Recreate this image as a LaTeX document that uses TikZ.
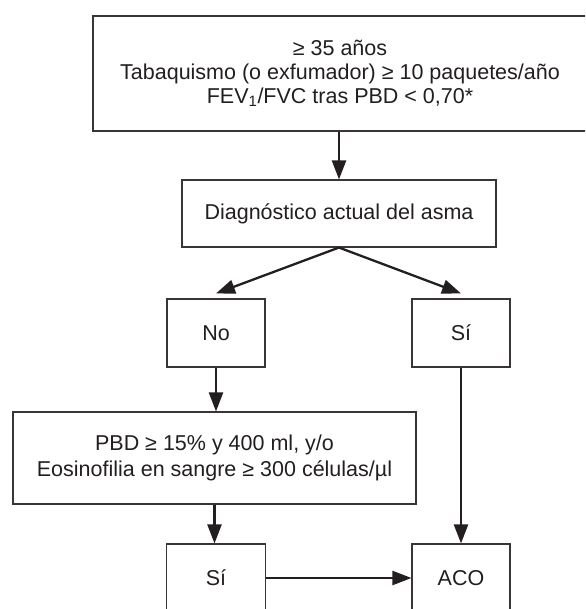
\documentclass[tikz,border=0pt]{standalone}
\usepackage{fontspec}
\setmainfont{Liberation Sans}
\usetikzlibrary{arrows.meta}
\definecolor{ink}{HTML}{231F20}
\begin{document}
\begin{tikzpicture}[x=1pt,y=-1pt,
  box/.style={draw=ink!90, line width=1.1pt, align=center, inner sep=0pt,
    font=\fontsize{21.5}{24}\selectfont, text=ink},
  arr/.style={line width=2.3pt, draw=ink, -{Triangle[length=19pt,width=14pt]}}]
\clip (0,0) rectangle (585,609);
\fill[white] (0,0) rectangle (585,609);
\node[box, minimum width=494pt, minimum height=115pt] (top) at (340,73.5)
  {≥ 35 años\\Tabaquismo (o exfumador) ≥ 10 paquetes/año\\FEV\textsubscript{1}/FVC tras PBD < 0,70*};
\node[box, minimum width=314pt, minimum height=67pt] (diag) at (339,213.5)
  {Diagnóstico actual del asma};
\node[box, minimum width=98pt, minimum height=68pt] (no) at (216,333) {No};
\node[box, minimum width=98pt, minimum height=68pt] (si1) at (461,333) {Sí};
\node[box, minimum width=403pt, minimum height=92pt, font=\fontsize{21.5}{26}\selectfont] (pbd) at (214.5,458)
  {PBD ≥ 15\% y 400 ml, y/o\\Eosinofilia en sangre ≥ 300 células/µl};
\node[box, minimum width=99pt, minimum height=68pt] (si2) at (216,578) {Sí};
\node[box, minimum width=98pt, minimum height=68pt] (aco) at (461,578) {ACO};
\draw[arr] (top.south -| diag.north) -- (diag.north);
\draw[arr] (diag.south) -- ([yshift=5pt]no.north);
\draw[arr] (diag.south) -- ([yshift=5pt]si1.north);
\draw[arr] (no.south) -- (no.south |- pbd.north);
\draw[arr] (pbd.south) -- (pbd.south |- si2.north);
\draw[arr] (si1.south) -- (aco.north);
\draw[arr] (si2.east) -- (aco.west);
\end{tikzpicture}
\end{document}
